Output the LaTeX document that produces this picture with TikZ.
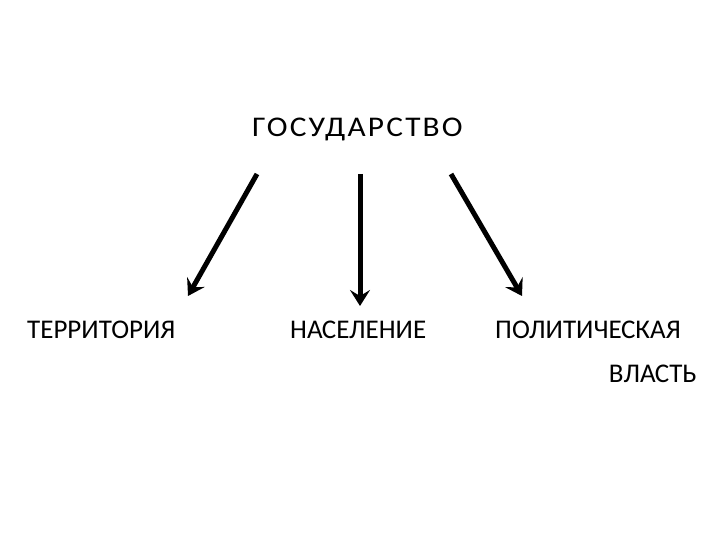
\documentclass[tikz,border=0pt]{standalone}
\usepackage{fontspec}
\setmainfont{Carlito}
\usetikzlibrary{arrows.meta}
\begin{document}
\begin{tikzpicture}[x=1pt,y=-1pt,
  lbl/.style={inner sep=0pt,font=\fontsize{27}{30}\selectfont},
  arr/.style={line width=5pt,-{Stealth[length=16pt,width=20pt,inset=6pt]}}]
\useasboundingbox[fill=white] (0,0) rectangle (720,540);
\node[inner sep=0pt,font=\fontsize{28.5}{30}\selectfont\addfontfeature{LetterSpace=7},anchor=base west] (gos) at (252,137) {\scalebox{1.1}[1]{ГОСУДАРСТВО}};
\node[lbl,anchor=base west] (ter) at (27,338) {ТЕРРИТОРИЯ};
\node[lbl,anchor=base west] (nas) at (290,338) {НАСЕЛЕНИЕ};
\node[lbl,anchor=base west] (pol) at (495,338) {ПОЛИТИЧЕСКАЯ};
\node[lbl,anchor=base east] (vla) at (697,382) {ВЛАСТЬ};
\coordinate (s1) at (257,174);
\coordinate (e1) at (188,296);
\coordinate (s2) at (360,174);
\coordinate (e2) at (360,306);
\coordinate (s3) at (451,174);
\coordinate (e3) at (522,296);
\draw[arr] (s1) -- (e1);
\draw[arr] (s2) -- (e2);
\draw[arr] (s3) -- (e3);
\end{tikzpicture}
\end{document}
